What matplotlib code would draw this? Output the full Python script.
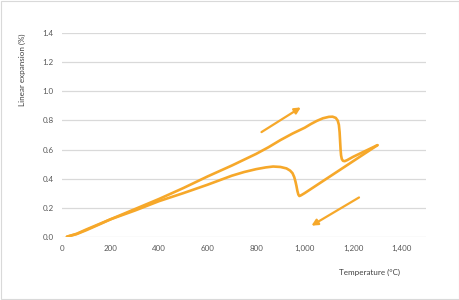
import matplotlib.pyplot as plt
from matplotlib.patches import Rectangle

# heating curve (temperature in C, linear expansion in %)
heat_temp = [20, 60, 100, 150, 200, 300, 400, 500, 600, 700, 800, 850, 900, 950, 1000,
             1025, 1050, 1075, 1100, 1115, 1128, 1136, 1141, 1144, 1146, 1148, 1150,
             1153, 1158, 1165, 1175, 1200, 1250, 1300]
heat_exp = [0.00, 0.018, 0.045, 0.082, 0.12, 0.19, 0.26, 0.335, 0.415, 0.49, 0.57, 0.615,
            0.665, 0.71, 0.75, 0.775, 0.797, 0.815, 0.825, 0.826, 0.818, 0.80, 0.77, 0.72,
            0.66, 0.60, 0.56, 0.535, 0.522, 0.52, 0.527, 0.55, 0.59, 0.63]

# cooling curve
cool_temp = [1300, 1200, 1100, 1000, 985, 978, 974, 970, 966, 962, 957, 950, 940, 925,
             900, 870, 840, 800, 750, 700, 600, 500, 400, 300, 200, 150, 100, 60, 20]
cool_exp = [0.63, 0.52, 0.41, 0.30, 0.285, 0.28, 0.29, 0.315, 0.35, 0.38, 0.41, 0.437,
            0.455, 0.47, 0.48, 0.483, 0.477, 0.465, 0.445, 0.42, 0.358, 0.30, 0.245, 0.18,
            0.12, 0.085, 0.05, 0.02, 0.00]

# direction arrows (start, end)
arrow_up = [(822, 0.72), (984, 0.89)]
arrow_down = [(1224, 0.27), (1028, 0.076)]

orange = '#F6A82A'
plt.rcParams['font.family'] = ['Lato', 'DejaVu Sans']

fig = plt.figure(figsize=(4.6, 3.0), dpi=100)
ax = fig.add_axes([0.135, 0.211, 0.791, 0.678])

ax.plot(heat_temp, heat_exp, color=orange, lw=1.9, solid_capstyle='round', solid_joinstyle='round')
ax.plot(cool_temp, cool_exp, color=orange, lw=1.9, solid_capstyle='round', solid_joinstyle='round')

for (x0, y0), (x1, y1) in [arrow_up, arrow_down]:
    ax.annotate('', xy=(x1, y1), xytext=(x0, y0),
                arrowprops=dict(arrowstyle='-|>', color=orange, lw=1.6, mutation_scale=9,
                                shrinkA=0, shrinkB=0))

ax.set_xlim(0, 1500)
ax.set_ylim(0, 1.4)
ax.set_xticks(range(0, 1401, 200))
ax.set_xticklabels([f'{v:,}' for v in range(0, 1401, 200)])
ax.set_yticks([0, 0.2, 0.4, 0.6, 0.8, 1.0, 1.2, 1.4])
ax.set_yticklabels([f'{v:.1f}' for v in [0, 0.2, 0.4, 0.6, 0.8, 1.0, 1.2, 1.4]])
ax.grid(axis='y', color='#D9D9D9', lw=0.9)
ax.set_axisbelow(True)
for s in ax.spines.values():
    s.set_visible(False)
ax.tick_params(length=0, labelsize=5.8, colors='#595959', pad=6)

fig.text(22 / 460, 1 - 70 / 300, 'Linear expansion (%)', rotation=90, fontsize=5.8,
         color='#404040', ha='center', va='center')
fig.text(370 / 460, 1 - 272 / 300, 'Temperature (°C)', fontsize=5.8,
         color='#404040', ha='center', va='center')

fig.patches.append(Rectangle((0.003, 0.003), 0.994, 0.994, transform=fig.transFigure,
                             fill=False, edgecolor='#D9D9D9', lw=0.8))

fig.savefig('out.png', dpi=100)
